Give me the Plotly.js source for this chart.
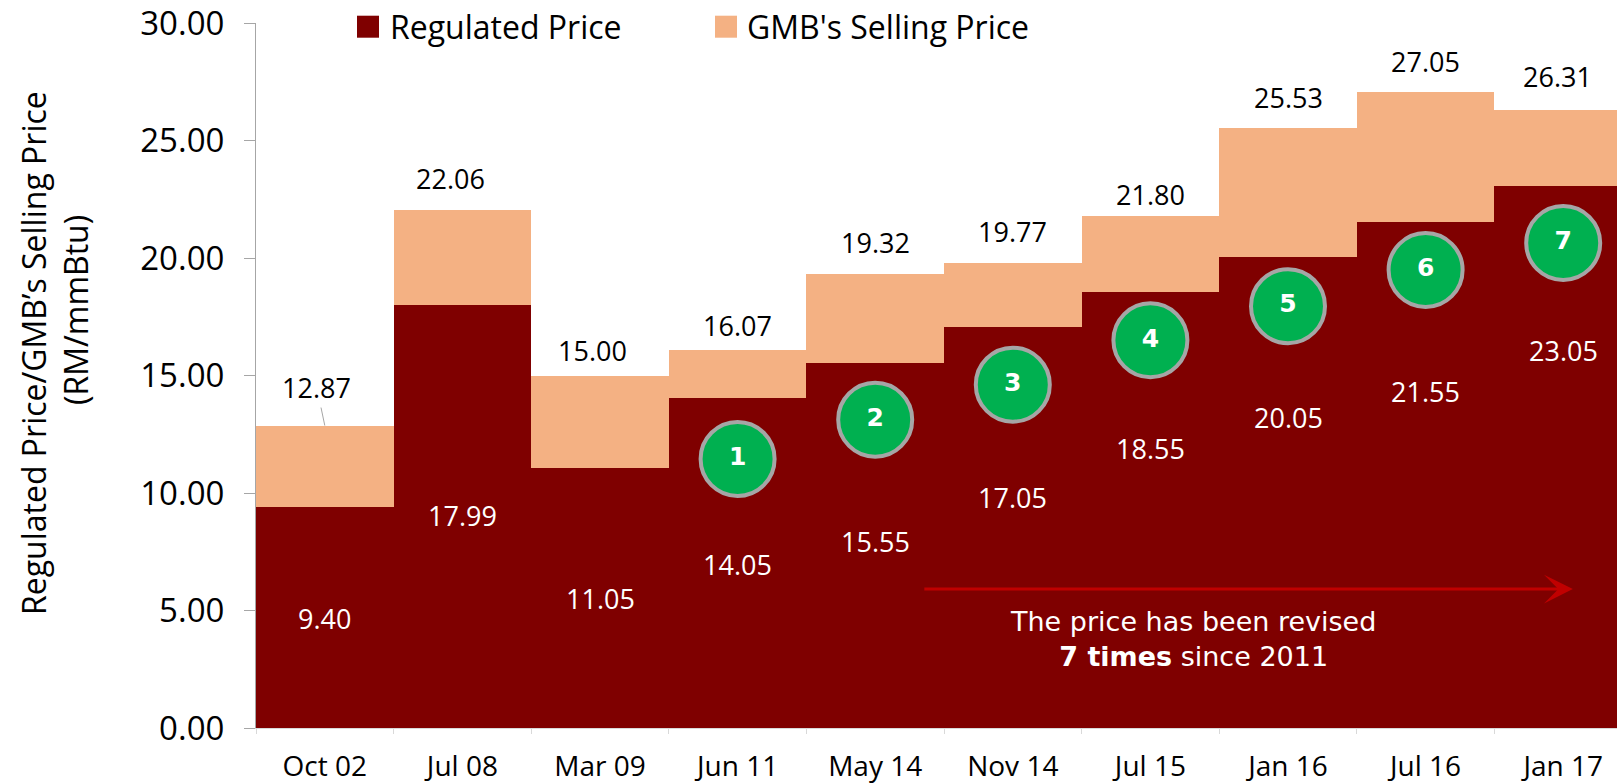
<!DOCTYPE html>
<html>
<head>
<meta charset="utf-8">
<script src="https://cdn.plot.ly/plotly-3.0.1.min.js"></script>
<style>html,body{margin:0;padding:0;background:#fff;}#chart{width:1617px;height:783px;}</style>
</head>
<body>
<div id="chart"></div>
<script>
// ---- data ----
const categories = ['Oct 02','Jul 08','Mar 09','Jun 11','May 14','Nov 14','Jul 15','Jan 16','Jul 16','Jan 17'];
const regulatedPrice = [9.40, 17.99, 11.05, 14.05, 15.55, 17.05, 18.55, 20.05, 21.55, 23.05];
const sellingPrice = [12.87, 22.06, 15.00, 16.07, 19.32, 19.77, 21.80, 25.53, 27.05, 26.31];
const revisionLabels = ['1','2','3','4','5','6','7'];
const revisionCategories = categories.slice(3);
const yTicks = [0, 5, 10, 15, 20, 25, 30];

// ---- label / marker placement (layout only) ----
const regLabelY = [4.64, 9.03, 5.52, 6.97, 7.93, 9.82, 11.89, 13.2, 14.3, 16.06];
const totalLabelShift = [0, 31, 25, 25, 31, 32, 21, 31, 31, 33];
const totalLabelXShift = [0, -12, -8, 0, 0, 0, 0, 0, 0, -6];
const circleY = [11.45, 13.12, 14.61, 16.50, 17.95, 19.49, 20.64];

const calibri = 'Open Sans, Lato, sans-serif';
const verdana = 'DejaVu Sans, Verdana, sans-serif';
const darkRed = '#7F0000';
const peach = '#F4B183';

const gap = sellingPrice.map((v, i) => +(v - regulatedPrice[i]).toFixed(2));

const traces = [
  {type:'bar', x:categories, y:regulatedPrice, name:'Regulated Price',
   marker:{color:darkRed, line:{width:0}}, hoverinfo:'skip'},
  {type:'bar', x:categories, y:gap, name:"GMB's Selling Price",
   marker:{color:peach, line:{width:0}}, hoverinfo:'skip'},
  {type:'scatter', mode:'markers+text', x:revisionCategories, y:circleY,
   text:revisionLabels, textposition:'middle center',
   textfont:{family:verdana, size:25, color:'#ffffff', weight:'bold'},
   marker:{size:74, color:'#00B050', line:{color:'#A6A6A6', width:4}},
   hoverinfo:'skip', cliponaxis:false}
];

const annotations = [];
categories.forEach((c, i) => {
  if (i === 0) {
    annotations.push({x:i, y:sellingPrice[i], xref:'x', yref:'y', text:sellingPrice[i].toFixed(2),
      showarrow:true, arrowhead:0, arrowwidth:1, arrowcolor:'#A6A6A6', ax:-8, ay:-38,
      font:{family:calibri, size:27, color:'#000'}});
  } else {
    annotations.push({x:i, y:sellingPrice[i], xref:'x', yref:'y', text:sellingPrice[i].toFixed(2),
      showarrow:false, yanchor:'middle', yshift:totalLabelShift[i], xshift:totalLabelXShift[i],
      font:{family:calibri, size:27, color:'#000'}});
  }
  annotations.push({x:i, y:regLabelY[i], xref:'x', yref:'y', text:regulatedPrice[i].toFixed(2),
    showarrow:false, yanchor:'middle', font:{family:calibri, size:27, color:'#ffffff'}});
});

// arrow
annotations.push({x:9.07, y:5.91, xref:'x', yref:'y', ax:-650, ay:0, text:'',
  showarrow:true, arrowhead:3, arrowsize:1.6, arrowwidth:3, arrowcolor:'#C00000'});
// arrow text
annotations.push({x:6.31, y:3.78, xref:'x', yref:'y', showarrow:false, align:'center',
  text:'The price has been revised<br><b>7 times</b> since 2011',
  font:{family:verdana, size:27, color:'#ffffff'}, yanchor:'middle'});

// y-axis title (two lines)
annotations.push({xref:'paper', yref:'paper', x:(34-256)/1361, y:(727.7-353)/704.4, xanchor:'center', yanchor:'middle',
  textangle:-90, showarrow:false, text:'Regulated Price/GMB\u2019s Selling Price',
  font:{family:calibri, size:32, color:'#000'}});
annotations.push({xref:'paper', yref:'paper', x:(76-256)/1361, y:(727.7-310)/704.4, xanchor:'center', yanchor:'middle',
  textangle:-90, showarrow:false, text:'(RM/mmBtu)',
  font:{family:calibri, size:32, color:'#000'}});

// custom legend
const legendItems = [
  {name:'Regulated Price', color:darkRed, sx:368, tx:388},
  {name:"GMB's Selling Price", color:peach, sx:726, tx:745}
];
const shapes = [];
legendItems.forEach(it => {
  const px = (it.sx - 256) / 1361;
  const py = (727.7 - 27) / 704.4;
  shapes.push({type:'rect', xref:'paper', yref:'paper', xsizemode:'pixel', ysizemode:'pixel',
    xanchor:px, yanchor:py, x0:-11, x1:11, y0:-11, y1:11, fillcolor:it.color, line:{width:0}});
  annotations.push({xref:'paper', yref:'paper', x:(it.tx - 256)/1361, y:py, xanchor:'left', yanchor:'middle',
    showarrow:false, text:it.name, font:{family:calibri, size:32, color:'#000'}});
});

const layout = {
  width:1617, height:783,
  margin:{l:256, r:0, t:23, b:55, pad:0},
  paper_bgcolor:'#ffffff', plot_bgcolor:'#ffffff',
  barmode:'stack', bargap:0, showlegend:false, hovermode:false,
  xaxis:{type:'category', range:[-0.5, 9.391], showgrid:false, zeroline:false,
    showline:true, linecolor:'#D9D9D9', linewidth:1, ticks:'outside', ticklen:5, tickcolor:'#D9D9D9',
    tickson:'boundaries', ticklabelstandoff:13, ticklabeloverflow:'allow',
    tickfont:{family:calibri, size:28, color:'#000'}},
  yaxis:{range:[0,30], tickvals:yTicks, ticktext:yTicks.map(v=>v.toFixed(2)), showgrid:false, zeroline:false,
    showline:true, linecolor:'#A6A6A6', linewidth:1, ticks:'outside', ticklen:11, tickcolor:'#A6A6A6',
    ticklabelstandoff:13, ticklabeloverflow:'allow', tickfont:{family:calibri, size:33, color:'#000'}},
  annotations:annotations,
  shapes:shapes
};

Plotly.newPlot('chart', traces, layout, {displayModeBar:false, staticPlot:true});
</script>
</body>
</html>
